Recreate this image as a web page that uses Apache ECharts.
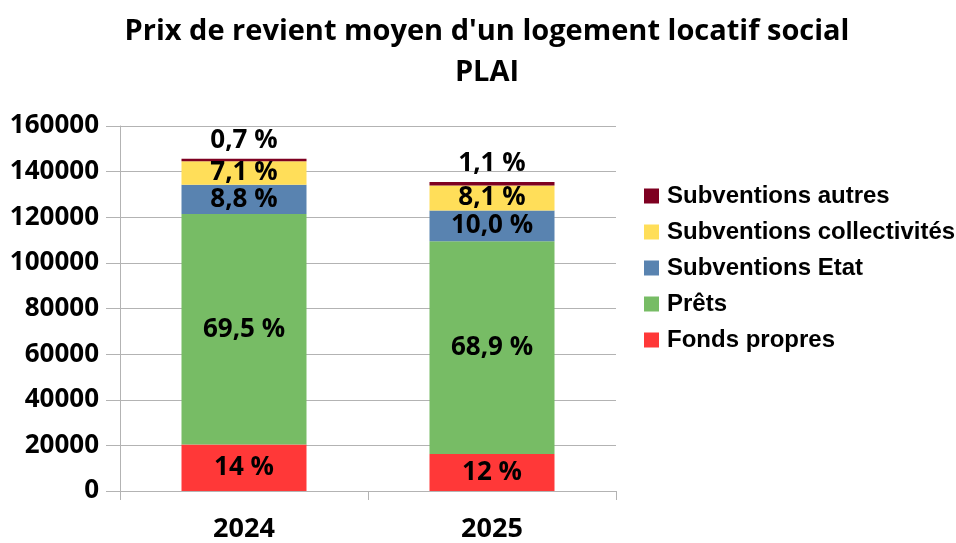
<!DOCTYPE html>
<html>
<head>
<meta charset="utf-8">
<script src="https://cdn.jsdelivr.net/npm/echarts@6/dist/echarts.min.js"></script>
<style>
  html, body { margin: 0; padding: 0; background: #fff; }
  #chart { width: 956px; height: 543px; }
</style>
</head>
<body>
<div id="chart"></div>
<script>
const years = ['2024', '2025']

// montants (euros)
const fondsPropres = [20370, 16240]
const prets = [101100, 93220]
const subEtat = [12800, 13530]
const subCollectivites = [10330, 10960]
const subAutres = [1020, 1490]

// libellés de pourcentage
const pctFonds = ['14 %', '12 %']
const pctPrets = ['69,5 %', '68,9 %']
const pctEtat = ['8,8 %', '10,0 %']
const pctCollectivites = ['7,1 %', '8,1 %']
const pctAutres = ['0,7 %', '1,1 %']

const yTicks = [0, 20000, 40000, 60000, 80000, 100000, 120000, 140000, 160000]

const labelFont = '"Open Sans", Lato, sans-serif'

function barSeries(name, data, labels, color, position) {
  return {
    name,
    type: 'bar',
    stack: 'total',
    barWidth: 125,
    data,
    itemStyle: { color },
    label: {
      show: true,
      position: position || 'inside',
      distance: 5,
      formatter: p => labels[p.dataIndex],
      color: '#000',
      fontFamily: labelFont,
      fontWeight: 'bold',
      fontSize: 26
    }
  }
}

const chart = echarts.init(document.getElementById('chart'))
chart.setOption({
  animation: false,
  title: {
    text: "Prix de revient moyen d'un logement locatif social\nPLAI",
    left: 482,
    textAlign: 'center',
    top: 6,
    textStyle: {
      fontFamily: labelFont,
      fontWeight: 'bold',
      fontSize: 29,
      lineHeight: 41,
      color: '#000'
    }
  },
  legend: {
    orient: 'vertical',
    left: 639,
    top: 179,
    itemWidth: 15,
    itemHeight: 15,
    itemGap: 12,
    icon: 'rect',
    data: ['Subventions autres', 'Subventions collectivités', 'Subventions Etat', 'Prêts', 'Fonds propres'],
    textStyle: {
      fontFamily: '"Liberation Sans", Arial, sans-serif',
      fontWeight: 'bold',
      fontSize: 24,
      lineHeight: 24,
      color: '#000',
      padding: [0, 0, 0, 3]
    }
  },
  grid: { left: 120, right: 340, top: 126, bottom: 50 },
  xAxis: {
    type: 'category',
    data: years,
    axisLine: { lineStyle: { color: '#b3b3b3', width: 1 } },
    axisTick: { show: true, length: 9, lineStyle: { color: '#b3b3b3' } },
    axisLabel: {
      margin: 25,
      color: '#000',
      fontFamily: labelFont,
      fontWeight: 'bold',
      fontSize: 27
    }
  },
  yAxis: {
    type: 'value',
    min: yTicks[0],
    max: yTicks[yTicks.length - 1],
    interval: 20000,
    axisLine: { show: true, lineStyle: { color: '#b3b3b3' } },
    axisTick: { show: true, length: 14, lineStyle: { color: '#b3b3b3' } },
    splitLine: { lineStyle: { color: '#b3b3b3' } },
    axisLabel: {
      margin: 21,
      color: '#000',
      fontFamily: labelFont,
      fontWeight: 'bold',
      fontSize: 26,
      formatter: v => String(v)
    }
  },
  series: [
    barSeries('Fonds propres', fondsPropres, pctFonds, '#ff3838'),
    barSeries('Prêts', prets, pctPrets, '#77bc65'),
    barSeries('Subventions Etat', subEtat, pctEtat, '#5983b0'),
    barSeries('Subventions collectivités', subCollectivites, pctCollectivites, '#ffde59'),
    barSeries('Subventions autres', subAutres, pctAutres, '#7e0021', 'top')
  ]
})
</script>
</body>
</html>
